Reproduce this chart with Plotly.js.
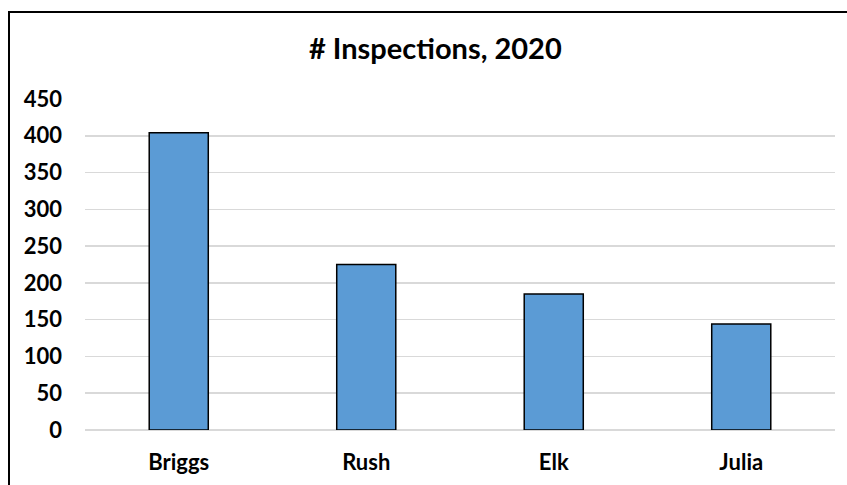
<!DOCTYPE html>
<html>
<head>
<meta charset="utf-8">
<script src="https://cdn.plot.ly/plotly-3.0.1.min.js"></script>
<style>
html,body{margin:0;padding:0;background:#fff;}
#wrap{position:relative;width:847px;height:485px;overflow:hidden;}
#chart{width:847px;height:485px;}
#frame{position:absolute;left:8px;top:11px;width:900px;height:600px;border-left:2px solid #000;border-top:2px solid #000;pointer-events:none;}
</style>
</head>
<body>
<div id="wrap"><div id="chart"></div><div id="frame"></div></div>
<script>
const categories = ["Briggs", "Rush", "Elk", "Julia"];
const inspections = [404, 225, 185, 144];
const yTicks = [0, 50, 100, 150, 200, 250, 300, 350, 400, 450];

const FONT = "Lato, 'Open Sans', sans-serif";

Plotly.newPlot("chart", [{
  type: "bar",
  x: categories,
  y: inspections,
  marker: {color: "#5B9BD5", line: {color: "#000", width: 1.5}},
  hoverinfo: "x+y"
}], {
  width: 847, height: 485,
  margin: {l: 85, r: 12, t: 99, b: 55},
  paper_bgcolor: "#fff", plot_bgcolor: "#fff",
  bargap: 0.685,
  showlegend: false,
  title: {text: "<b># Inspections, 2020</b>", font: {family: FONT, size: 29, color: "#000"}, x: 0.514, xanchor: "center", y: 0.899, yanchor: "middle"},
  xaxis: {
    showgrid: false, showline: false, zeroline: false, ticks: "",
    tickfont: {family: FONT, size: 22, color: "#000", weight: "bold"},
    ticklabelstandoff: 17
  },
  yaxis: {
    range: [0, 450], tickvals: yTicks, ticktext: yTicks.map(String),
    showgrid: true, gridcolor: "#d9d9d9", gridwidth: 1.5,
    zeroline: true, zerolinecolor: "#d9d9d9", zerolinewidth: 1.5,
    showline: false, ticks: "",
    tickfont: {family: FONT, size: 22, color: "#000", weight: "bold"},
    ticklabelstandoff: 22
  },
  font: {family: FONT}
}, {displayModeBar: false, staticPlot: true});
</script>
</body>
</html>
